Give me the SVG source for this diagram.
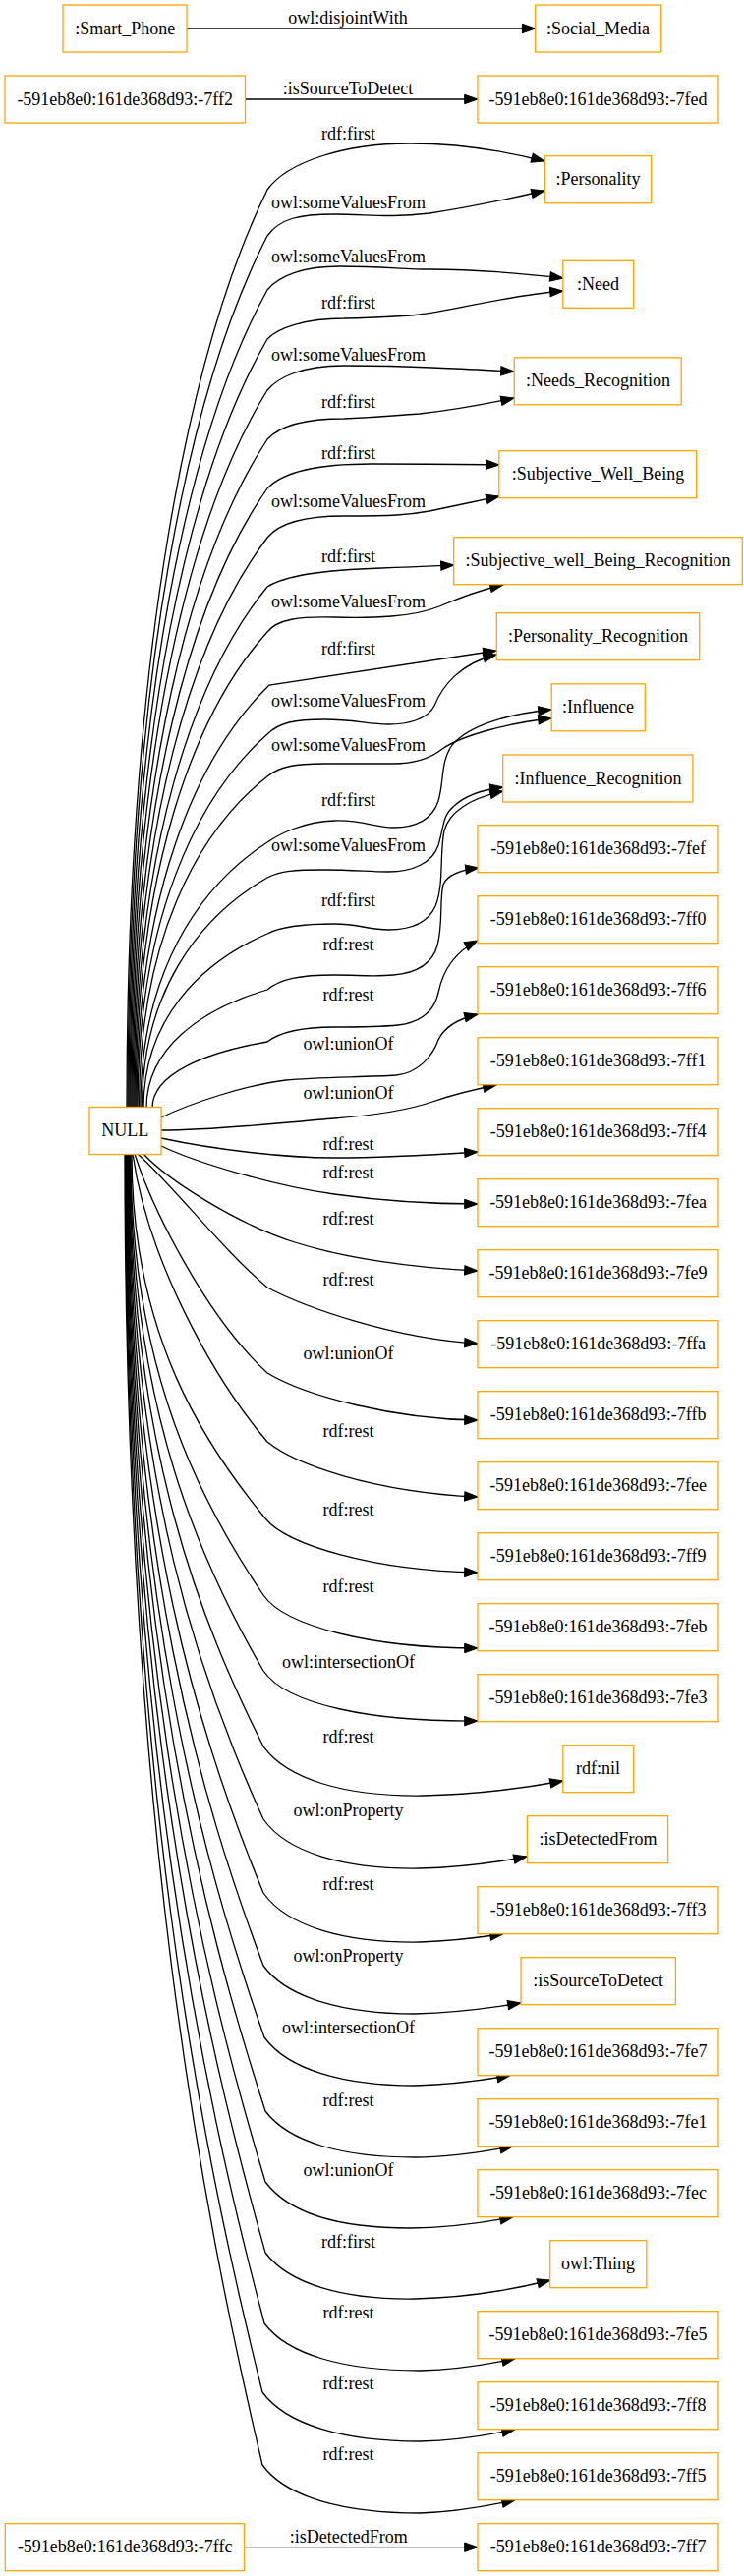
<svg xmlns="http://www.w3.org/2000/svg" width="757" height="2621" viewBox="0 0 757 2621">
<style>
.node rect{fill:#fff;stroke:#ffa500;stroke-width:1.3}
text{font-family:"Liberation Serif","Times New Roman",serif;font-size:18px;text-anchor:middle;fill:#000}
#edges path{fill:none;stroke:#000;stroke-width:1.3;marker-end:url(#arrow)}
</style>
<defs>
<marker id="arrow" viewBox="0 -5 14 10" markerWidth="14" markerHeight="10" refX="13.3" refY="0" orient="auto" markerUnits="userSpaceOnUse" overflow="visible">
<path d="M0,-4.7 L13.3,0 L0,4.7 Z" fill="#000" stroke="#000" stroke-width="1"/>
</marker>
</defs>
<rect width="757" height="2621" fill="#fff"/>
<g id="edges">
<path d="M190,29 L544.7,29"/><text x="354" y="24">owl:disjointWith</text>
<path d="M249.5,101 L486,101"/><text x="354" y="96">:isSourceToDetect</text>
<path d="M129,1127 C129,660 194,352 272,193 C292,165 350,146 417,146 C465,146 515,154 554,164"/><text x="354.5" y="142">rdf:first</text>
<path d="M130,1127 C130,683 194,391 272,240 C285,222 305,218 340,218 C375,218 395,222 437,217 C470,212 515,203 554,194"/><text x="354.5" y="212">owl:someValuesFrom</text>
<path d="M131,1127 C131,711 194,436 272,295 C284,280 310,271 345,271 C390,271 410,274 437,274 C480,274 530,278 573,283"/><text x="354.5" y="267">owl:someValuesFrom</text>
<path d="M132,1127 C132,736 195,478 272,345 C282,334 310,324 350,324 C390,323 410,322 427,320 C460,316 520,300 573,296"/><text x="354.5" y="314">rdf:first</text>
<path d="M133,1127 C133,762 195,521 272,397 C282,385 305,372 350,372 C400,372 420,373 440,374 C470,375 500,377 523,378"/><text x="354.5" y="367">owl:someValuesFrom</text>
<path d="M134,1127 C134,787 196,563 272,447 C282,436 305,426 350,426 C395,424 410,422 427,421 C455,418 490,412 523,405"/><text x="354.5" y="415">rdf:first</text>
<path d="M135,1127 C135,812 197,604 272,497 C284,484 310,472 378,472 C420,472 460,472 508,473"/><text x="354.5" y="466.7">rdf:first</text>
<path d="M136,1127 C136,837 197,646 272,547 C284,532 310,525 350,525 C400,525 415,524 437,520 C460,515 485,510 508,505"/><text x="354.5" y="516">owl:someValuesFrom</text>
<path d="M137,1127 C137,862 198,687 272,597 C286,588 320,580 388,578 C420,577 440,576 462,575"/><text x="354.5" y="571.7">rdf:first</text>
<path d="M138,1127 C138,885 198,725 272,643 C282,630 305,627 340,628 C380,629 420,628 447,617 C470,607 490,600 512,595"/><text x="354.5" y="618">owl:someValuesFrom</text>
<path d="M139,1127 C139,912 199,770 274,697 L505,662"/><text x="354.5" y="665.7">rdf:first</text>
<path d="M140,1127 C140,937 199,812 272,747 C284,735 300,732 330,732 C360,732 375,737 395,737 C415,737 435,732 442,718 C450,698 468,675 505,666"/><text x="354.5" y="719">owl:someValuesFrom</text>
<path d="M141.5,1127 C141.5,958 200,847 272,790 C284,780 300,777 330,777 C360,777 380,777 400,777 C425,777 440,770 450,762 C470,748 520,735 561,731"/><text x="354.5" y="763.7">owl:someValuesFrom</text>
<path d="M143,1127 C143,991 201,903 272,857 C285,848 310,836 340,835 C370,834 380,842 400,842 C425,842 440,833 446,815 C452,795 448,775 460,758 C478,737 520,726 561,722"/><text x="354.5" y="819.7">rdf:first</text>
<path d="M144.5,1127 C144.5,1010 202,933 272,893 C285,886 300,885 330,885 C360,885 375,887 395,887 C420,887 440,878 446,860 C452,840 450,830 462,820 C475,808 495,803 512,801"/><text x="354.5" y="865.7">owl:someValuesFrom</text>
<path d="M146,1127 C146,1038 203,980 272,950 C285,943 310,940 340,940 C365,940 375,946 395,946 C418,946 435,940 443,922 C452,900 447,870 452,845 C458,825 480,812 512,805"/><text x="354.5" y="922">rdf:first</text>
<path d="M149,1127 C149,1067 204,1027 272,1007 C285,996 305,992 340,992 C365,992 380,994 400,992 C425,990 440,980 445,962 C451,940 447,915 451,900 C455,890 470,885 487,883"/><text x="354.5" y="966.7">rdf:rest</text>
<path d="M155,1127 C155,1093 208,1071 272,1060 C285,1050 305,1045 340,1045 C370,1045 385,1045 405,1043 C430,1040 442,1028 446,1010 C450,990 460,970 486,957"/><text x="354.5" y="1017.7">rdf:rest</text>
<path d="M164,1137 C195,1122 250,1104 291,1099 C320,1096 370,1096 403,1094 C425,1092 440,1075 446,1058 C452,1045 465,1037 486,1032"/><text x="354.5" y="1067.7">owl:unionOf</text>
<path d="M164,1150 C220,1150 290,1142 340,1138 C390,1134 420,1128 440,1121 C460,1114 485,1108 505,1104"/><text x="354.5" y="1118.3">owl:unionOf</text>
<path d="M164,1158 C220,1170 290,1178 340,1178 C390,1178 440,1175 486,1172"/><text x="354.5" y="1170">rdf:rest</text>
<path d="M164,1166 C200,1183 280,1207 340,1215 C390,1222 440,1225 486,1225"/><text x="354.5" y="1199">rdf:rest</text>
<path d="M146,1174 C170,1200 240,1245 300,1264 C350,1280 420,1290 486,1293"/><text x="354.5" y="1245.7">rdf:rest</text>
<path d="M140,1174 C175,1205 225,1270 272,1310 C310,1330 400,1362 486,1367"/><text x="354.5" y="1307.7">rdf:rest</text>
<path d="M137,1174 C155,1230 210,1340 272,1397 C310,1420 400,1444 486,1445"/><text x="354.5" y="1382.7">owl:unionOf</text>
<path d="M135,1174 C150,1280 215,1400 272,1467 C300,1490 380,1518 486,1523"/><text x="354.5" y="1461.7">rdf:rest</text>
<path d="M134,1174 C134,1359 209,1471 270,1545 C292,1572 380,1598 486,1600"/><text x="354.5" y="1541.7">rdf:rest</text>
<path d="M133,1174 C133,1398 207,1533 268,1623 C290,1655 380,1677 486,1677"/><text x="354.5" y="1619.7">rdf:rest</text>
<path d="M132.5,1174 C132.5,1437 207,1595 268,1700 C292,1735 380,1752 486,1751"/><text x="354.5" y="1697.3">owl:intersectionOf</text>
<path d="M132,1174 C132,1475 207,1656 268,1777 C292,1810 350,1828 430,1827 C480,1826 530,1820 573,1812"/><text x="354.5" y="1773.3">rdf:rest</text>
<path d="M131.5,1174 C131.5,1512 206.5,1716 268,1851 C292,1885 350,1902 427,1901 C470,1900 505,1895 536,1889"/><text x="354.5" y="1847.7">owl:onProperty</text>
<path d="M131,1174 C131,1550 206,1776 268,1926 C292,1960 350,1977 427,1976 C460,1975 490,1971 512,1967.7"/><text x="354.5" y="1922.7">rdf:rest</text>
<path d="M130.5,1174 C130.5,1587 206,1835 268,2000 C292,2033 350,2049 422,2049 C460,2048 500,2043 530,2038"/><text x="354.5" y="1996">owl:onProperty</text>
<path d="M130,1174 C130,1624 206,1893 269,2073 C293,2106 350,2122 422,2122 C460,2121 495,2116 519,2111.7"/><text x="354.5" y="2069.3">owl:intersectionOf</text>
<path d="M129.5,1174 C129.5,1661 207,1953 270,2148 C294,2180 350,2195 422,2195 C460,2195 495,2189 522,2183.7"/><text x="354.5" y="2142.7">rdf:rest</text>
<path d="M129,1174 C129,1697 207,2011 270,2220 C294,2252 345,2267 417,2267 C458,2267 495,2261 522,2255.7"/><text x="354.5" y="2214.3">owl:unionOf</text>
<path d="M128.5,1174 C128.5,1733 207,2068 270,2292 C294,2324 350,2340 422,2339 C470,2338 520,2330 560,2320"/><text x="354.5" y="2286.7">rdf:first</text>
<path d="M128,1174 C128,1769 206,2126 269,2364 C293,2396 350,2412 427,2412 C465,2411 500,2405 524,2399.7"/><text x="354.5" y="2358.7">rdf:rest</text>
<path d="M127.5,1174 C127.5,1804 204,2182 267,2434 C291,2467 350,2484 427,2484 C465,2483 500,2477 524,2471.7"/><text x="354.5" y="2430.7">rdf:rest</text>
<path d="M127,1174 C127,1841 204,2241 267,2508 C291,2541 350,2557 427,2557 C465,2556 500,2549 524,2543.7"/><text x="354.5" y="2502.7">rdf:rest</text>
<path d="M248.5,2591.7 L486,2591.7"/><text x="354.8" y="2586.7">:isDetectedFrom</text>
</g>
<g id="n_smart_phone" class="node"><rect x="64" y="5" width="126" height="48"/><text x="127.2" y="34.5">:Smart_Phone</text></g>
<g id="n_social_media" class="node"><rect x="544.7" y="5" width="128" height="48"/><text x="608.6" y="34.5">:Social_Media</text></g>
<g id="n_7ff2" class="node"><rect x="5" y="77" width="244.5" height="48"/><text x="127.2" y="106.5">-591eb8e0:161de368d93:-7ff2</text></g>
<g id="n_7fed" class="node"><rect x="486" y="77" width="245" height="48"/><text x="608.6" y="106.5">-591eb8e0:161de368d93:-7fed</text></g>
<g id="n_null" class="node"><rect x="91" y="1126.5" width="73" height="48"/><text x="127.2" y="1156">NULL</text></g>
<g id="n_personality" class="node"><rect x="554.4" y="158.7" width="108.2" height="48"/><text x="608.6" y="188.2">:Personality</text></g>
<g id="n_need" class="node"><rect x="572.8" y="265.3" width="71.9" height="48"/><text x="608.6" y="294.8">:Need</text></g>
<g id="n_needs_recognition" class="node"><rect x="523.3" y="363.8" width="169.9" height="48"/><text x="608.6" y="393.3">:Needs_Recognition</text></g>
<g id="n_swb" class="node"><rect x="507.8" y="458.7" width="200.9" height="48"/><text x="608.6" y="488.2">:Subjective_Well_Being</text></g>
<g id="n_swbr" class="node"><rect x="461.7" y="546.7" width="293.6" height="48"/><text x="608.6" y="576.2">:Subjective_well_Being_Recognition</text></g>
<g id="n_pr" class="node"><rect x="505.3" y="623.7" width="206.4" height="48"/><text x="608.6" y="653.2">:Personality_Recognition</text></g>
<g id="n_influence" class="node"><rect x="561.2" y="695.8" width="95.1" height="48"/><text x="608.6" y="725.3">:Influence</text></g>
<g id="n_ir" class="node"><rect x="511.7" y="768" width="193.2" height="48"/><text x="608.6" y="797.5">:Influence_Recognition</text></g>
<g id="n_7fef" class="node"><rect x="486" y="839.7" width="245" height="48"/><text x="608.6" y="869.2">-591eb8e0:161de368d93:-7fef</text></g>
<g id="n_7ff0" class="node"><rect x="486" y="911.7" width="245" height="48"/><text x="608.6" y="941.2">-591eb8e0:161de368d93:-7ff0</text></g>
<g id="n_7ff6" class="node"><rect x="486" y="983.7" width="245" height="48"/><text x="608.6" y="1013.2">-591eb8e0:161de368d93:-7ff6</text></g>
<g id="n_7ff1" class="node"><rect x="486" y="1055.7" width="245" height="48"/><text x="608.6" y="1085.2">-591eb8e0:161de368d93:-7ff1</text></g>
<g id="n_7ff4" class="node"><rect x="486" y="1127.7" width="245" height="48"/><text x="608.6" y="1157.2">-591eb8e0:161de368d93:-7ff4</text></g>
<g id="n_7fea" class="node"><rect x="486" y="1199.7" width="245" height="48"/><text x="608.6" y="1229.2">-591eb8e0:161de368d93:-7fea</text></g>
<g id="n_7fe9" class="node"><rect x="486" y="1271.7" width="245" height="48"/><text x="608.6" y="1301.2">-591eb8e0:161de368d93:-7fe9</text></g>
<g id="n_7ffa" class="node"><rect x="486" y="1343.7" width="245" height="48"/><text x="608.6" y="1373.2">-591eb8e0:161de368d93:-7ffa</text></g>
<g id="n_7ffb" class="node"><rect x="486" y="1415.7" width="245" height="48"/><text x="608.6" y="1445.2">-591eb8e0:161de368d93:-7ffb</text></g>
<g id="n_7fee" class="node"><rect x="486" y="1487.7" width="245" height="48"/><text x="608.6" y="1517.2">-591eb8e0:161de368d93:-7fee</text></g>
<g id="n_7ff9" class="node"><rect x="486" y="1559.7" width="245" height="48"/><text x="608.6" y="1589.2">-591eb8e0:161de368d93:-7ff9</text></g>
<g id="n_7feb" class="node"><rect x="486" y="1631.7" width="245" height="48"/><text x="608.6" y="1661.2">-591eb8e0:161de368d93:-7feb</text></g>
<g id="n_7fe3" class="node"><rect x="486" y="1703.7" width="245" height="48"/><text x="608.6" y="1733.2">-591eb8e0:161de368d93:-7fe3</text></g>
<g id="n_rdf_nil" class="node"><rect x="572.8" y="1775.7" width="71.9" height="48"/><text x="608.6" y="1805.2">rdf:nil</text></g>
<g id="n_isdetectedfrom" class="node"><rect x="536.4" y="1847.7" width="143.2" height="48"/><text x="608.6" y="1877.2">:isDetectedFrom</text></g>
<g id="n_7ff3" class="node"><rect x="486" y="1919.7" width="245" height="48"/><text x="608.6" y="1949.2">-591eb8e0:161de368d93:-7ff3</text></g>
<g id="n_issourcetodetect" class="node"><rect x="530" y="1991.7" width="157.4" height="48"/><text x="608.6" y="2021.2">:isSourceToDetect</text></g>
<g id="n_7fe7" class="node"><rect x="486" y="2063.7" width="245" height="48"/><text x="608.6" y="2093.2">-591eb8e0:161de368d93:-7fe7</text></g>
<g id="n_7fe1" class="node"><rect x="486" y="2135.7" width="245" height="48"/><text x="608.6" y="2165.2">-591eb8e0:161de368d93:-7fe1</text></g>
<g id="n_7fec" class="node"><rect x="486" y="2207.7" width="245" height="48"/><text x="608.6" y="2237.2">-591eb8e0:161de368d93:-7fec</text></g>
<g id="n_owl_thing" class="node"><rect x="559.7" y="2279.7" width="98.1" height="48"/><text x="608.6" y="2309.2">owl:Thing</text></g>
<g id="n_7fe5" class="node"><rect x="486" y="2351.7" width="245" height="48"/><text x="608.6" y="2381.2">-591eb8e0:161de368d93:-7fe5</text></g>
<g id="n_7ff8" class="node"><rect x="486" y="2423.7" width="245" height="48"/><text x="608.6" y="2453.2">-591eb8e0:161de368d93:-7ff8</text></g>
<g id="n_7ff5" class="node"><rect x="486" y="2495.7" width="245" height="48"/><text x="608.6" y="2525.2">-591eb8e0:161de368d93:-7ff5</text></g>
<g id="n_7ffc" class="node"><rect x="5.3" y="2567.7" width="243.2" height="48"/><text x="127.2" y="2597.2">-591eb8e0:161de368d93:-7ffc</text></g>
<g id="n_7ff7" class="node"><rect x="486" y="2567.7" width="245" height="48"/><text x="608.6" y="2597.2">-591eb8e0:161de368d93:-7ff7</text></g>
</svg>
